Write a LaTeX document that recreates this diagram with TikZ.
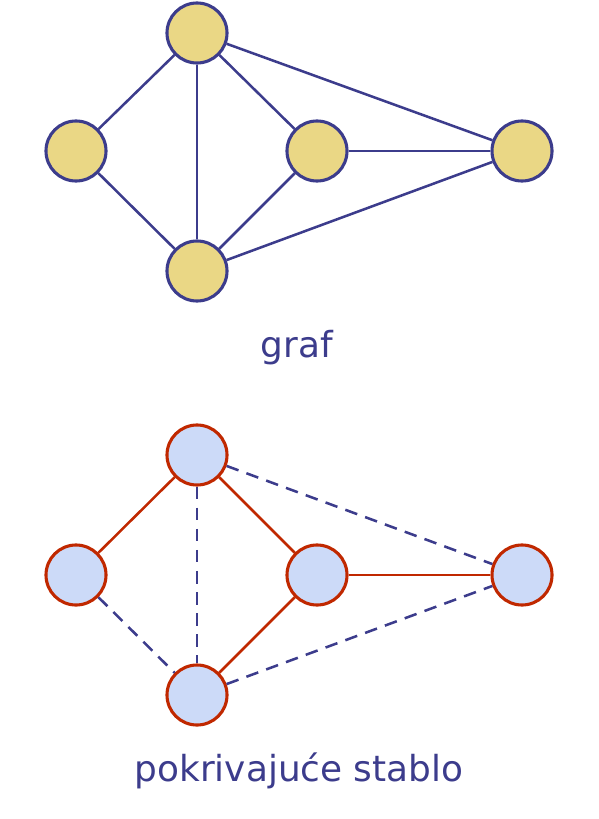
\documentclass[tikz,border=0pt]{standalone}
\usepackage{fontspec}
\setmainfont{DejaVu Sans}
\usepackage{tikz}
\definecolor{navy}{RGB}{60,60,140}
\definecolor{sand}{RGB}{234,215,133}
\definecolor{sky}{RGB}{204,218,248}
\definecolor{rust}{RGB}{192,40,0}
\tikzset{
 vertex/.style={circle, minimum size=1.5cm, inner sep=0pt, line width=2.2pt},
 gvertex/.style={vertex, draw=navy, fill=sand},
 tvertex/.style={vertex, draw=rust, fill=sky},
 edge/.style={draw=navy, line width=1.8pt},
 treeedge/.style={draw=rust, line width=1.8pt},
 restedge/.style={draw=navy, line width=1.8pt, dash pattern=on 9pt off 6pt},
 caption/.style={text=navy, font=\fontsize{25.5}{30}\selectfont}
}
\begin{document}
\begin{tikzpicture}[x=0.025cm, y=-0.025cm]
\useasboundingbox (0,0) rectangle (598,819);

% graf
\node[gvertex] (a) at (197,33) {};
\node[gvertex] (b) at (76,151) {};
\node[gvertex] (c) at (317,151) {};
\node[gvertex] (d) at (522,151) {};
\node[gvertex] (e) at (197,271) {};
\node[caption] (graf) at (297,348) {graf};

% stablo
\node[tvertex] (ta) at (197,455) {};
\node[tvertex] (tb) at (76,575) {};
\node[tvertex] (tc) at (317,575) {};
\node[tvertex] (td) at (522,575) {};
\node[tvertex] (te) at (197,695) {};
\node[caption] (stablo) at (299,771) {pokrivajuće stablo};

\draw[edge] (a) -- (b);
\draw[edge] (a) -- (c);
\draw[edge] (a) -- (d);
\draw[edge] (a) -- (e);
\draw[edge] (b) -- (e);
\draw[edge] (c) -- (e);
\draw[edge] (c) -- (d);
\draw[edge] (d) -- (e);

\draw[treeedge] (ta) -- (tb);
\draw[treeedge] (ta) -- (tc);
\draw[treeedge] (tc) -- (te);
\draw[treeedge] (tc) -- (td);
\draw[restedge] (ta) -- (td);
\draw[restedge] (ta) -- (te);
\draw[restedge] (tb) -- (te);
\draw[restedge] (te) -- (td);
\end{tikzpicture}
\end{document}
